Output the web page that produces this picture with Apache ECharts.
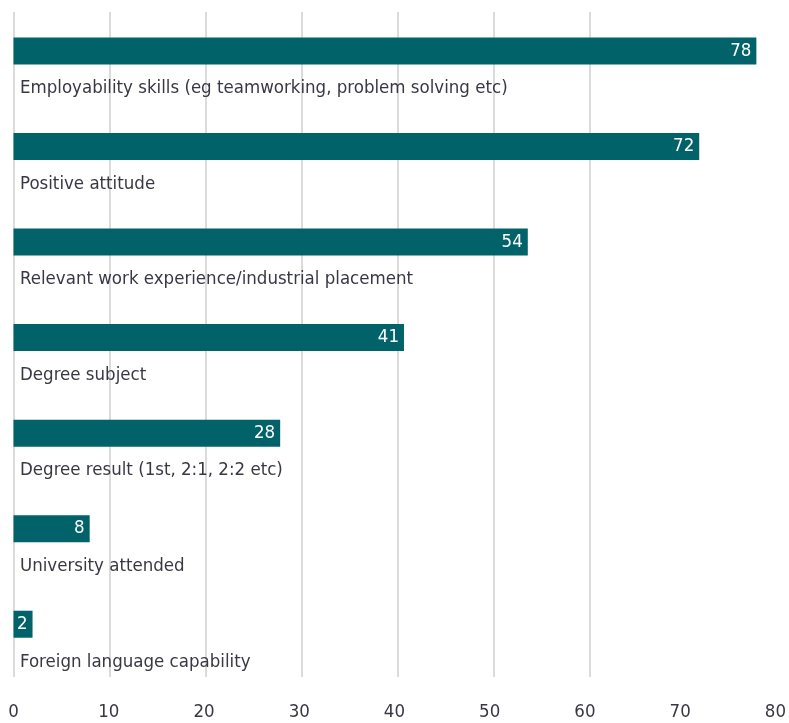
<!DOCTYPE html>
<html>
<head>
<meta charset="utf-8">
<script src="https://cdn.jsdelivr.net/npm/echarts@6/dist/echarts.min.js"></script>
<style>
  html, body { margin: 0; padding: 0; background: #ffffff; }
  #chart { width: 789px; height: 723px; }
</style>
</head>
<body>
<div id="chart"></div>
<script>
// Attributes employers rate as important, % of respondents
const categories = [
  'Employability skills (eg teamworking, problem solving etc)',
  'Positive attitude',
  'Relevant work experience/industrial placement',
  'Degree subject',
  'Degree result (1st, 2:1, 2:2 etc)',
  'University attended',
  'Foreign language capability'
];
const values = [78, 72, 54, 41, 28, 8, 2];
const tickLabels = ['0', '10', '20', '30', '40', '50', '60', '70', '80'];

const FONT = '"Liberation Sans Narrow", "DejaVu Sans Condensed", sans-serif';
const BAR = '#01626a';
const TEXT = '#3a3744';

const chart = echarts.init(document.getElementById('chart'), null, { renderer: 'canvas' });

chart.setOption({
  animation: false,
  backgroundColor: '#ffffff',
  grid: [
    // bars and axis labels
    { left: 13.5, right: 7.5, top: 3.2, bottom: 51 },
    // vertical guide lines (0 to 60)
    { left: 13.5, width: 576, top: 12, bottom: 46 }
  ],
  xAxis: [
    {
      type: 'value', gridIndex: 0, min: 0, max: 80, interval: 10,
      axisLine: { show: false }, axisTick: { show: false },
      splitLine: { show: false },
      axisLabel: {
        margin: 31, color: TEXT, fontFamily: FONT, fontSize: 18.5,
        formatter: function (v) { return tickLabels[Math.round(v / 10)]; }
      }
    },
    {
      type: 'value', gridIndex: 1, min: 0, max: 60, interval: 10,
      axisLine: { show: false }, axisTick: { show: false },
      axisLabel: { show: false },
      splitLine: { show: true, lineStyle: { color: '#cfcfcf', width: 1.5 } }
    }
  ],
  yAxis: [
    {
      type: 'category', gridIndex: 0, data: categories, inverse: true,
      axisLine: { show: false }, axisTick: { show: false },
      axisLabel: { show: false }, splitLine: { show: false }
    },
    {
      type: 'value', gridIndex: 1, min: 0, max: 1, show: false,
      splitLine: { show: false }
    }
  ],
  series: [
    {
      type: 'bar', xAxisIndex: 0, yAxisIndex: 0,
      data: values, barWidth: 27, z: 3,
      itemStyle: { color: BAR },
      label: {
        show: true, position: 'insideRight', distance: 5,
        color: '#ffffff', fontFamily: FONT, fontSize: 18.5
      }
    },
    {
      // category names written beneath each bar
      type: 'bar', xAxisIndex: 0, yAxisIndex: 0,
      data: values, barWidth: 27, barGap: '-100%', z: 4, silent: true,
      itemStyle: { color: 'rgba(0,0,0,0)' },
      label: {
        show: true, position: [6.5, 51], align: 'left', verticalAlign: 'middle',
        color: TEXT, fontFamily: FONT, fontSize: 18.5,
        formatter: function (p) { return p.name; }
      }
    }
  ]
});
</script>
</body>
</html>
